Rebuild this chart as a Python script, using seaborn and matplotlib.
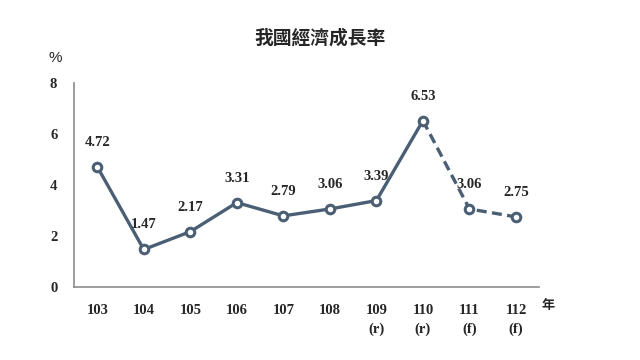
import matplotlib
matplotlib.use("Agg")
import matplotlib.pyplot as plt
import seaborn as sns
import pandas as pd
import numpy as np

# 資料
years = ['103', '104', '105', '106', '107', '108', '109', '110', '111', '112']
notes = ['', '', '', '', '', '', '(r)', '(r)', '(f)', '(f)']
growth = [4.72, 1.47, 2.17, 3.31, 2.79, 3.06, 3.39, 6.53, 3.06, 2.75]
n_actual = 8  # 103~110 實際值, 110~112 預測(虛線)

LINE = '#4b5f74'
GRID = '#8c8c8c'

sns.set_style('white')
plt.rcParams['font.family'] = ['Liberation Serif', 'DejaVu Serif']

df = pd.DataFrame({'pos': np.arange(len(years)), 'growth': growth})

fig = plt.figure(figsize=(6.4, 3.6), dpi=100)
ax = fig.add_axes([0.1156, 0.203, 0.727, 0.566])

sns.lineplot(data=df.iloc[:n_actual], x='pos', y='growth', ax=ax,
             color=LINE, linewidth=2.4, zorder=2)
sns.lineplot(data=df.iloc[n_actual - 1:], x='pos', y='growth', ax=ax,
             color=LINE, linewidth=2.4, linestyle=(0, (3.0, 1.6)), zorder=2)
ax.scatter(df['pos'], df['growth'], s=38, facecolor='white',
           edgecolor=LINE, linewidth=2.2, zorder=3)

for x, v in zip(df['pos'], growth):
    ax.annotate(f'{v:.2f}', (x, v), xytext=(0, 13), textcoords='offset points',
                ha='center', va='bottom', fontsize=10.5, fontweight='bold')

ax.set_xlim(-0.5, len(years) - 0.5)
ax.set_ylim(0, 8)
ax.set_yticks([0, 2, 4, 6, 8])
ax.set_yticklabels(['0', '2', '4', '6', '8'], fontsize=10.5, fontweight='bold')

# 類別邊界刻度
ax.set_xticks(np.arange(-0.5, len(years)), minor=True)
ax.set_xticks(df['pos'])
ax.set_xticklabels([y + ('\n' + n if n else '') for y, n in zip(years, notes)],
                   fontsize=10.5, fontweight='bold', linespacing=1.55, va='top')
ax.tick_params(axis='x', which='major', length=0, pad=12)
ax.tick_params(axis='x', which='minor', length=4, direction='in', color=GRID, width=1)
ax.tick_params(axis='y', length=4, direction='in', color=GRID, width=1, pad=12)

ax.set_xlabel('')
ax.set_ylabel('')
for s in ['top', 'right']:
    ax.spines[s].set_visible(False)
for s in ['left', 'bottom']:
    ax.spines[s].set_color(GRID)
    ax.spines[s].set_linewidth(1.2)

cjk = ['Noto Sans CJK TC', 'DejaVu Sans']
fig.text(0.5, 0.895, '我國經濟成長率', ha='center', va='center',
         fontsize=13.5, fontweight='bold', family=cjk)
fig.text(0.086, 0.84, '%', ha='center', va='center', fontsize=11, family=['Liberation Sans'])
fig.text(0.857, 0.153, '年', ha='center', va='center', fontsize=9.5,
         fontweight='bold', family=cjk)

fig.savefig('out.png', dpi=100)
